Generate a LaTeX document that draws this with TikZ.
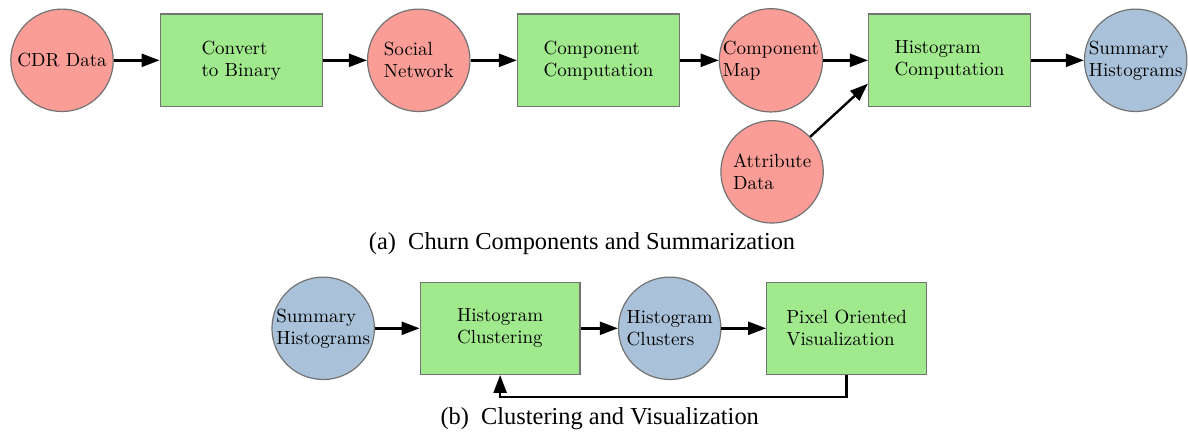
\documentclass[tikz,border=0pt]{standalone}
\usepackage{fontspec}
\usetikzlibrary{arrows.meta}
\newfontfamily\capfont{Liberation Serif}
\definecolor{datared}{HTML}{F99D96}
\definecolor{procgreen}{HTML}{A0E98D}
\definecolor{sumblue}{HTML}{A9C2DA}
\definecolor{rimgray}{HTML}{737373}
\tikzset{
    datanode/.style={circle, draw=rimgray, fill=datared, minimum size=1.8cm,
    	inner sep=0pt, align=left, font=\fontsize{9.5}{11}\selectfont,
    	line width=0.6pt},
    sumnode/.style={datanode, fill=sumblue},
    procbox/.style={rectangle, draw=rimgray, fill=procgreen,
    	minimum width=2.85cm, minimum height=1.63cm, align=left,
    	font=\fontsize{9.5}{11}\selectfont, line width=0.6pt},
    caption/.style={font=\capfont\fontsize{12.2}{14}\selectfont},
    flow/.style={line width=1.2pt, -{Triangle[length=9pt,width=6.5pt]}}
}
\tikzset{
    every edge/.append style={flow}
}

\begin{document}
\begin{tikzpicture}
	\useasboundingbox (0cm, 0cm) rectangle (20.88cm, -7.61cm);
	% (a) churn components
	\node (cdr) [datanode] at (1.09cm, -1.06cm) {CDR Data};
	\node (binary) [procbox] at (4.24cm, -1.06cm) {Convert\\to Binary};
	\node (social) [datanode] at (7.36cm, -1.06cm) {Social\\Network};
	\node (compcomp) [procbox] at (10.52cm, -1.06cm) {Component\\Computation};
	\node (compmap) [datanode] at (13.55cm, -1.06cm) {Component\\Map};
	\node (attr) [datanode] at (13.57cm, -3.02cm) {Attribute\\Data};
	\node (histcomp) [procbox] at (16.69cm, -1.06cm) {Histogram\\Computation};
	\node (summary) [sumnode] at (19.96cm, -1.06cm) {Summary\\Histograms};
	\node (capa) [caption] at (10.23cm, -4.29cm) {(a)\enspace Churn Components and Summarization};
	
	\draw (cdr) edge (binary); \draw (binary) edge (social);
	\draw (social) edge (compcomp); \draw (compcomp) edge (compmap);
	\draw (compmap) edge (histcomp); \draw (histcomp) edge (summary);
	\draw (attr) edge ([yshift=-0.41cm]histcomp.west);
	
	% (b) clustering
	\node (summary2) [sumnode] at (5.68cm, -5.77cm) {Summary\\Histograms};
	\node (clustering) [procbox, minimum width=2.81cm, minimum height=1.62cm] at (8.79cm, -5.77cm) {Histogram\\Clustering};
	\node (clusters) [sumnode] at (11.77cm, -5.77cm) {Histogram\\Clusters};
	\node (pixel) [procbox, minimum width=2.81cm, minimum height=1.62cm] at (14.88cm, -5.77cm) {Pixel Oriented\\Visualization};
	\node (capb) [caption] at (10.54cm, -7.36cm) {(b)\enspace Clustering and Visualization};
	
	\draw (summary2) edge (clustering); \draw (clustering) edge (clusters);
	\draw (clusters) edge (pixel);
	\draw [flow] (pixel.south) -- ++(0cm, -0.39cm) -| (clustering.south);
\end{tikzpicture}
\end{document}
